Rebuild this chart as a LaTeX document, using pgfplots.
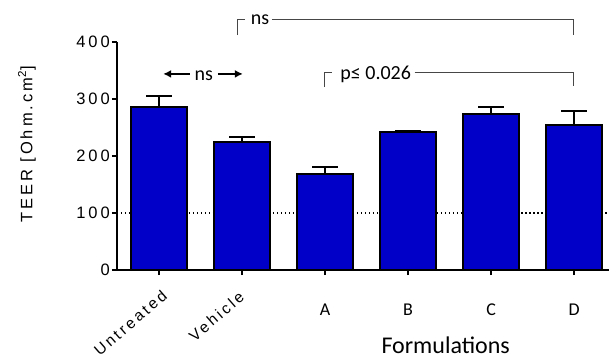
\documentclass[border=0pt]{standalone}
\usepackage{fontspec}
\usepackage{pgfplots}
\pgfplotsset{compat=1.18}
\usetikzlibrary{arrows.meta}
\setmainfont{Liberation Sans}
\newfontfamily\spaced[LetterSpace=18]{Liberation Sans}
\newfontfamily\calib{Carlito}
\definecolor{barblue}{RGB}{0,0,200}
\definecolor{brk}{RGB}{70,70,70}
\begin{document}
\begin{tikzpicture}
\path[use as bounding box] (-117bp,-88bp) rectangle (492bp,270bp);
\begin{axis}[
  at={(0,0)}, anchor=south west,
  width=492bp, height=228bp, scale only axis,
  xmin=-0.506, xmax=5.42, ymin=0, ymax=400,
  clip=false,
  axis x line=bottom, axis y line=left,
  axis line style={-, line width=1.8bp, black},
  tick style={line width=1.5bp, black},
  major tick length=5bp,
  tick align=outside,
  xtick={0,1,2,3,4,5},
  xticklabels={,,A,B,C,D},
  xticklabel style={font=\calib\fontsize{18bp}{20bp}\selectfont, anchor=base, yshift=-40bp},
  ytick={0,100,200,300,400},
  yticklabel style={font=\spaced\fontsize{16.5bp}{18bp}\selectfont, inner xsep=2bp},
  /pgf/number format/assume math mode=true,
  ylabel={TEER [Ohm.cm\textsuperscript{2}]},
  ylabel style={font=\spaced\fontsize{16.5bp}{18bp}\selectfont, at={(axis description cs:-0.183,0.55)}, anchor=center},
  xlabel={Formulations},
  xlabel style={font=\calib\fontsize{24bp}{26bp}\selectfont, at={(axis description cs:0.668,-0.368)}, anchor=base, inner sep=0pt},
]
\addplot[black, line width=1.5bp, dash pattern=on 1.5bp off 2.5bp] coordinates {(-0.506,100) (5.42,100)};
\addplot[ybar, bar width=56bp, fill=barblue, draw=black, line width=1.5bp,
  error bars/.cd, y dir=plus, y explicit,
  error bar style={line width=1.5bp, black},
  error mark options={rotate=90, mark size=13bp, line width=1.5bp, black}]
  coordinates {
  (0,286) +- (0,19)
  (1,224.5) +- (0,9)
  (2,168) +- (0,13)
  (3,242) +- (0,2)
  (4,274) +- (0,12)
  (5,254) +- (0,25)
  };
% rotated labels
\node[font=\spaced\fontsize{15.5bp}{17bp}\selectfont, rotate=41, anchor=north east, inner sep=0pt] at (axis cs:0.02,-33) {Untreated};
\node[font=\spaced\fontsize{15.5bp}{17bp}\selectfont, rotate=41, anchor=north east, inner sep=0pt] at (axis cs:0.95,-35) {Vehicle};
% top ns bracket
\draw[brk, line width=1bp] (axis cs:0.95,412) -- (axis cs:0.95,438.6) -- (axis cs:1.04,438.6);
\node[font=\calib\fontsize{20bp}{22bp}\selectfont, anchor=base, inner sep=0pt] at (axis cs:1.217,430) {ns};
\draw[brk, line width=1bp] (axis cs:1.36,438.6) -- (axis cs:4.99,438.6) -- (axis cs:4.99,412);
% p bracket
\draw[brk, line width=1bp] (axis cs:1.99,321) -- (axis cs:1.99,347) -- (axis cs:2.08,347);
\node[font=\calib\fontsize{20bp}{22bp}\selectfont, anchor=base, inner sep=0pt] at (axis cs:2.61,335) {p≤ 0.026};
\draw[brk, line width=1bp] (axis cs:3.08,347) -- (axis cs:4.99,347) -- (axis cs:4.99,323);
% arrows ns
\draw[black, line width=1.8bp, {Latex[length=8bp,width=8bp]}-] (axis cs:0.05,344) -- (axis cs:0.37,344);
\node[font=\calib\fontsize{20bp}{22bp}\selectfont, anchor=base, inner sep=0pt] at (axis cs:0.54,333) {ns};
\draw[black, line width=1.8bp, -{Latex[length=8bp,width=8bp]}] (axis cs:0.71,344) -- (axis cs:1.01,344);
\end{axis}
\end{tikzpicture}
\end{document}
